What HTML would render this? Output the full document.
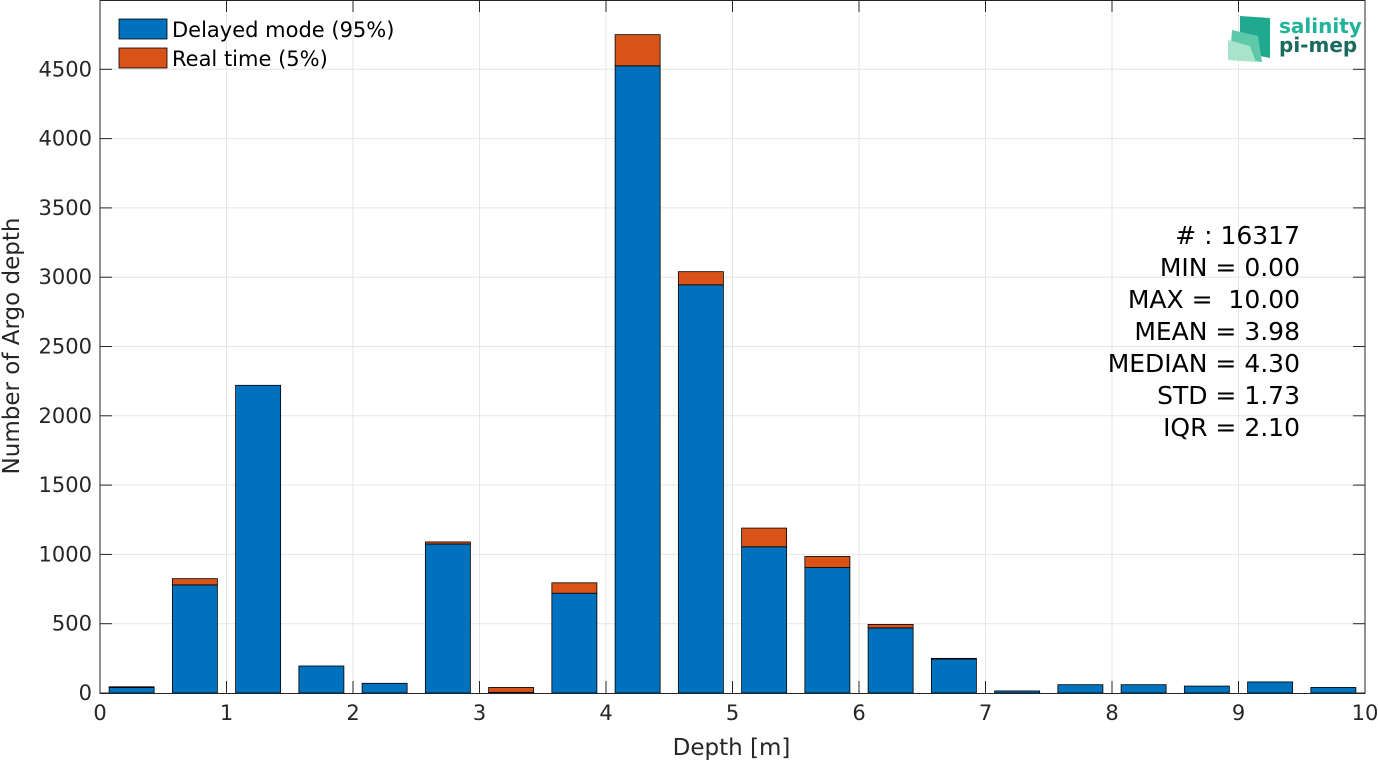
<!DOCTYPE html>
<html><head><meta charset="utf-8"><style>
body{margin:0;background:#fff;width:1378px;height:763px;overflow:hidden;font-family:"DejaVu Sans","Liberation Sans",sans-serif}
text{white-space:pre}
</style></head><body>
<svg id="chart" width="1378" height="763" xmlns="http://www.w3.org/2000/svg"></svg>
<script>
const binCenters=[0.25,0.75,1.25,1.75,2.25,2.75,3.25,3.75,4.25,4.75,5.25,5.75,6.25,6.75,7.25,7.75,8.25,8.75,9.25,9.75];
const delayedValues=[40,780,2220,195,70,1075,5,720,4525,2945,1055,905,470,245,15,60,60,50,80,40];
const realtimeValues=[5,45,0,0,0,15,35,75,225,95,135,80,25,5,0,0,0,0,0,0];
const xTicks=[0,1,2,3,4,5,6,7,8,9,10];
const yTicks=[0,500,1000,1500,2000,2500,3000,3500,4000,4500];
const statLines=["# : 16317","MIN = 0.00","MAX =  10.00","MEAN = 3.98","MEDIAN = 4.30","STD = 1.73","IQR = 2.10"];
const NS="http://www.w3.org/2000/svg";
const svg=document.getElementById('chart');
const L=100,R=1365,T=0,B=693,YMAX=5000;
const xs=v=>L+(R-L)*v/10;
const ys=v=>B-(B-T)*v/YMAX;
function mk(tag,attrs,parent){const e=document.createElementNS(NS,tag);for(const k in attrs)e.setAttribute(k,attrs[k]);(parent||svg).appendChild(e);return e;}
const grid=mk('g',{});


xTicks.forEach(t=>{if(t>0&&t<10)mk('line',{x1:xs(t),x2:xs(t),y1:T,y2:B,stroke:'#e6e6e6'},grid);});
yTicks.forEach(t=>{if(t>0)mk('line',{x1:L,x2:R,y1:ys(t),y2:ys(t),stroke:'#e6e6e6'},grid);});
const bw=0.356;
binCenters.forEach((c,i)=>{
  const d=delayedValues[i],r=realtimeValues[i];
  const b=mk('rect',{x:xs(c-bw/2),y:ys(d),width:xs(c+bw/2)-xs(c-bw/2),height:ys(0)-ys(d),fill:'#0072bd',stroke:'#000','stroke-width':0.8});
  
  
  if(r>0){
    const e=mk('rect',{x:xs(c-bw/2),y:ys(d+r),width:xs(c+bw/2)-xs(c-bw/2),height:ys(d)-ys(d+r),fill:'#d95319',stroke:'#000','stroke-width':0.8});
    
    
  }
});
const ax=mk('rect',{x:L,y:T+0.5,width:R-L,height:B-T,fill:'none',stroke:'#262626','stroke-width':1});


xTicks.forEach(t=>{
  mk('line',{x1:xs(t),x2:xs(t),y1:B,y2:B-12,stroke:'#262626'});
  mk('line',{x1:xs(t),x2:xs(t),y1:T,y2:T+12,stroke:'#262626'});
  const tx=mk('text',{x:xs(t),y:B+27,'text-anchor':'middle','font-size':21,fill:'#262626'});
  tx.textContent=t;
  
  
});
yTicks.forEach(t=>{
  mk('line',{x1:L,x2:L+12,y1:ys(t),y2:ys(t),stroke:'#262626'});
  mk('line',{x1:R,x2:R-12,y1:ys(t),y2:ys(t),stroke:'#262626'});
  const tx=mk('text',{x:L-8,y:ys(t)+7,'text-anchor':'end','font-size':21,fill:'#262626'});
  tx.textContent=t;
  
  
});
const xt=mk('text',{x:(L+R)/2-1,y:755,'text-anchor':'middle','font-size':23,fill:'#262626'});
xt.textContent='Depth [m]';


const yt=mk('text',{x:19,y:346,'text-anchor':'middle','font-size':23,fill:'#262626',transform:'rotate(-90 19 346)'});
yt.textContent='Number of Argo depth';


statLines.forEach((s,i)=>{
  const t=mk('text',{x:1300,y:244+i*32,'text-anchor':'end','font-size':25,fill:'#000'});
  t.textContent=s;
  
  
});
const lg=mk('g',{});


mk('rect',{x:119,y:19,width:48,height:20,fill:'#0072bd',stroke:'#000','stroke-width':0.8},lg);
mk('rect',{x:119,y:48,width:48,height:20,fill:'#d95319',stroke:'#000','stroke-width':0.8},lg);
const l1=mk('text',{x:172,y:37,'font-size':21,fill:'#000'},lg);l1.textContent='Delayed mode (95%)';


const l2=mk('text',{x:172,y:66,'font-size':21,fill:'#000'},lg);l2.textContent='Real time (5%)';


const lo=mk('g',{});


mk('polygon',{points:'1240,16 1270,18 1270,58 1240,52',fill:'#1fa98e'},lo);
mk('polygon',{points:'1232,30 1258,36 1262,62 1230,58',fill:'#5fc8a9'},lo);
mk('polygon',{points:'1228,40 1250,46 1256,62 1228,60',fill:'#a8e3cc'},lo);
const s1=mk('text',{x:1279,y:33,'font-size':20,'font-weight':'bold',fill:'#1fb39a'},lo);s1.textContent='salinity';
const s2=mk('text',{x:1279,y:52,'font-size':20,'font-weight':'bold',fill:'#1c6a5e'},lo);s2.textContent='pi-mep';
</script>
</body></html>
